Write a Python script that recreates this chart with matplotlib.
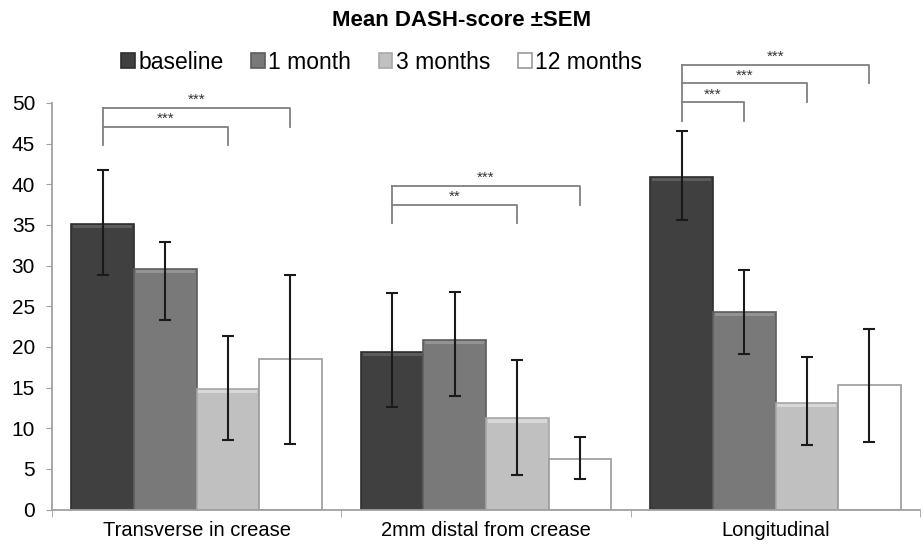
import matplotlib.pyplot as plt
import numpy as np

plt.rcParams['font.family'] = ['Liberation Sans', 'DejaVu Sans']

# Mean DASH scores per scar orientation and follow-up
categories = ["Transverse in crease", "2mm distal from crease", "Longitudinal"]
timepoints = ["baseline", "1 month", "3 months", "12 months"]

baseline = [35.1, 19.4, 40.9]
month1 = [29.6, 20.8, 24.3]
month3 = [14.8, 11.2, 13.1]
month12 = [18.5, 6.2, 15.3]

# upper / lower ends of the SEM whiskers
baseline_hi = [41.7, 26.6, 46.6]
baseline_lo = [28.8, 12.6, 35.6]
month1_hi = [32.9, 26.8, 29.5]
month1_lo = [23.3, 14.0, 19.1]
month3_hi = [21.3, 18.4, 18.7]
month3_lo = [8.5, 4.3, 7.9]
month12_hi = [28.8, 8.9, 22.2]
month12_lo = [8.1, 3.8, 8.3]

# significance brackets: (category, from bar, to bar, height, label)
brackets = [
    (0, 0, 3, 49.4, "***"),
    (0, 0, 2, 47.1, "***"),
    (1, 0, 3, 39.8, "***"),
    (1, 0, 2, 37.5, "**"),
    (2, 0, 3, 54.7, "***"),
    (2, 0, 2, 52.4, "***"),
    (2, 0, 1, 50.1, "***"),
]

means = [baseline, month1, month3, month12]
his = [baseline_hi, month1_hi, month3_hi, month12_hi]
los = [baseline_lo, month1_lo, month3_lo, month12_lo]
fills = ["#404040", "#797979", "#c0c0c0", "#ffffff"]
edges = ["#2e2e2e", "#5e5e5e", "#a8a8a8", "#9a9a9a"]
tops = ["#5c5c5c", "#939393", "#d8d8d8", "#ffffff"]

fig = plt.figure(figsize=(9.24, 5.44), dpi=100)
ax = fig.add_axes([0.056, 0.0634, 0.94, 0.7474])

x = np.arange(len(categories))
w = 0.216
for i in range(4):
    pos = x + (i - 1.5) * w
    vals = np.array(means[i])
    ax.bar(pos, vals, w, color=fills[i], edgecolor=edges[i], linewidth=1.2,
           label=timepoints[i], zorder=2)
    # bevel highlight along the top of each bar
    ax.bar(pos, np.full(3, 0.4), w * 0.94, bottom=vals - 0.5, color=tops[i],
           linewidth=0, zorder=3)
    err = [vals - np.array(los[i]), np.array(his[i]) - vals]
    ax.errorbar(pos, vals, yerr=err, fmt="none", ecolor="#1a1a1a",
                elinewidth=1.5, capsize=4, capthick=1.5, zorder=4)

for cat, a, b, h, lab in brackets:
    xa = cat + (a - 1.5) * w
    xb = cat + (b - 1.5) * w
    ax.plot([xa, xb, xb], [h, h, h - 2.3],
            color="#808080", lw=1.3, clip_on=False, zorder=5)
    ax.text((xa + xb) / 2, h + 0.1, lab, ha="center", va="bottom",
            fontsize=11, color="#333333", clip_on=False)

# left legs of the nested brackets reach down to the lowest one
for cat in range(3):
    hs = [h for c, a, b, h, l in brackets if c == cat]
    xa = cat - 1.5 * w
    ax.plot([xa, xa], [min(hs) - 2.3, max(hs)], color="#808080", lw=1.3,
            clip_on=False, zorder=5)

ax.set_xlim(-0.5, 2.5)
ax.set_ylim(0, 50)
ax.set_yticks(np.arange(0, 51, 5))
ax.set_xticks(x)
ax.set_xticklabels(categories, fontsize=14.5)
ax.set_xticks([-0.5, 0.5, 1.5, 2.5], minor=True)
ax.tick_params(axis="x", which="major", length=0, pad=8)
ax.tick_params(axis="x", which="minor", length=5, color="#a0a0a0")
ax.tick_params(axis="y", length=4, color="#a0a0a0", labelsize=15, pad=8)
for s in ["top", "right"]:
    ax.spines[s].set_visible(False)
for s in ["left", "bottom"]:
    ax.spines[s].set_color("#a0a0a0")
    ax.spines[s].set_linewidth(1.3)

fig.suptitle("Mean DASH-score ±SEM", fontsize=16, fontweight="bold",
             x=0.5, y=0.963, va="center")
fig.legend(loc="center", bbox_to_anchor=(0.413, 0.886), ncol=4, frameon=False,
           fontsize=16.5, handlelength=0.6, handleheight=0.6,
           handletextpad=0.15, columnspacing=1.2)

fig.savefig("out.png", dpi=100)
